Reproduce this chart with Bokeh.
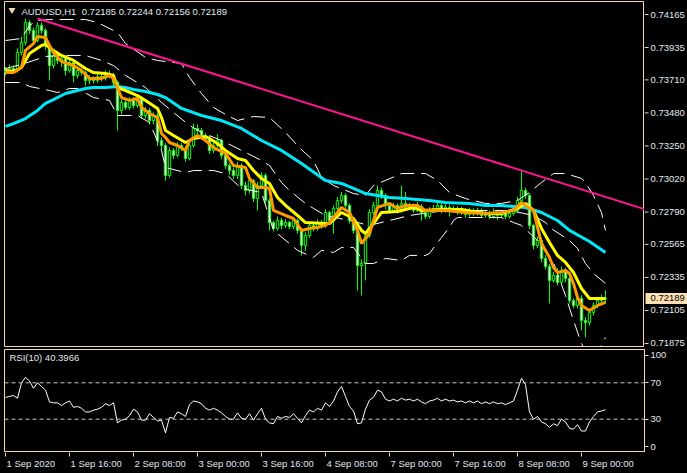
from bokeh.plotting import figure
from bokeh.models import Range1d, ColumnDataSource, Label, Span, GlobalInlineStyleSheet, FixedTicker
from bokeh.layouts import column, row
from bokeh.embed import file_html
from bokeh.resources import INLINE
from bokeh.core.properties import value

# ---------------- data ----------------
symbol = "AUDUSD,H1"
last_ohlc = [0.72185, 0.72244, 0.72156, 0.72189]
rsi_name = "RSI(10)"
rsi_last = "40.3966"

first_open = 0.73761
close = [
    0.73775, 0.73789, 0.73775, 0.73901, 0.73970, 0.74109, 0.74054, 0.73984, 0.74088, 0.74054,
    0.73949, 0.73810, 0.73880, 0.73845, 0.73859, 0.73775, 0.73831, 0.73740, 0.73775, 0.73761,
    0.73706, 0.73720, 0.73706, 0.73733, 0.73720, 0.73754, 0.73740, 0.73692, 0.73497, 0.73553,
    0.73518, 0.73566, 0.73532, 0.73580, 0.73462, 0.73497, 0.73427, 0.73462, 0.73288, 0.73253,
    0.73044, 0.73218, 0.73184, 0.73253, 0.73232, 0.73163, 0.73253, 0.73372, 0.73358, 0.73323,
    0.73302, 0.73218, 0.73253, 0.73288, 0.73184, 0.73114, 0.73079, 0.73044, 0.73114, 0.72975,
    0.72940, 0.73009, 0.72884, 0.72975, 0.73044, 0.72870, 0.72717, 0.72676, 0.72731, 0.72696,
    0.72717, 0.72689, 0.72731, 0.72662, 0.72557, 0.72627, 0.72696, 0.72676, 0.72717, 0.72696,
    0.72787, 0.72731, 0.72815, 0.72870, 0.72905, 0.72835, 0.72731, 0.72662, 0.72418, 0.72432,
    0.72627, 0.72787, 0.72835, 0.72940, 0.72905, 0.72835, 0.72801, 0.72835, 0.72801, 0.72849,
    0.72822, 0.72835, 0.72801, 0.72829, 0.72787, 0.72759, 0.72801, 0.72815, 0.72835, 0.72801,
    0.72822, 0.72801, 0.72815, 0.72787, 0.72801, 0.72773, 0.72801, 0.72780, 0.72801, 0.72766,
    0.72787, 0.72759, 0.72787, 0.72766, 0.72780, 0.72759, 0.72780, 0.72801, 0.72870, 0.72940,
    0.72905, 0.72696, 0.72557, 0.72592, 0.72467, 0.72411, 0.72314, 0.72349, 0.72300, 0.72383,
    0.72328, 0.72174, 0.72140, 0.72189, 0.72035, 0.72021, 0.72091, 0.72140, 0.72174, 0.72185,
    0.72189,
]
high = [
    0.73800, 0.73815, 0.73810, 0.73930, 0.74010, 0.74137, 0.74125, 0.74075, 0.74110, 0.74110,
    0.74070, 0.73965, 0.73905, 0.73900, 0.73885, 0.73880, 0.73860, 0.73850, 0.73800, 0.73790,
    0.73775, 0.73745, 0.73735, 0.73750, 0.73750, 0.73775, 0.73775, 0.73760, 0.73705, 0.73575,
    0.73570, 0.73590, 0.73590, 0.73600, 0.73595, 0.73520, 0.73515, 0.73485, 0.73480, 0.73310,
    0.73270, 0.73240, 0.73235, 0.73275, 0.73270, 0.73250, 0.73275, 0.73406, 0.73400, 0.73375,
    0.73340, 0.73320, 0.73275, 0.73330, 0.73300, 0.73200, 0.73130, 0.73100, 0.73140, 0.73130,
    0.73000, 0.73030, 0.73020, 0.73000, 0.73065, 0.73060, 0.72885, 0.72730, 0.72760, 0.72750,
    0.72740, 0.72730, 0.72750, 0.72745, 0.72680, 0.72650, 0.72720, 0.72715, 0.72740, 0.72735,
    0.72810, 0.72800, 0.72835, 0.72895, 0.72930, 0.72920, 0.72850, 0.72745, 0.72680, 0.72460,
    0.72650, 0.72810, 0.72860, 0.72975, 0.72960, 0.72920, 0.72850, 0.72855, 0.72850, 0.72975,
    0.72930, 0.72855, 0.72850, 0.72860, 0.72845, 0.72800, 0.72825, 0.72840, 0.72870, 0.72850,
    0.72845, 0.72840, 0.72835, 0.72830, 0.72825, 0.72815, 0.72820, 0.72815, 0.72820, 0.72815,
    0.72805, 0.72800, 0.72815, 0.72800, 0.72800, 0.72795, 0.72800, 0.72820, 0.72895, 0.73079,
    0.72960, 0.72920, 0.72710, 0.72620, 0.72610, 0.72490, 0.72430, 0.72375, 0.72400, 0.72410,
    0.72400, 0.72350, 0.72190, 0.72215, 0.72210, 0.72060, 0.72110, 0.72160, 0.72200, 0.72215,
    0.72244,
]
low = [
    0.73740, 0.73755, 0.73750, 0.73760, 0.73880, 0.73950, 0.74030, 0.73960, 0.73970, 0.74030,
    0.73920, 0.73706, 0.73790, 0.73820, 0.73800, 0.73740, 0.73760, 0.73692, 0.73720, 0.73740,
    0.73670, 0.73680, 0.73685, 0.73690, 0.73700, 0.73705, 0.73720, 0.73670, 0.73358, 0.73470,
    0.73500, 0.73500, 0.73510, 0.73515, 0.73440, 0.73440, 0.73400, 0.73400, 0.73250, 0.73218,
    0.73009, 0.73030, 0.73160, 0.73170, 0.73215, 0.73140, 0.73150, 0.73240, 0.73330, 0.73300,
    0.73275, 0.73195, 0.73200, 0.73240, 0.73160, 0.73090, 0.73050, 0.73020, 0.73020, 0.72950,
    0.72905, 0.72920, 0.72860, 0.72801, 0.72960, 0.72850, 0.72662, 0.72655, 0.72660, 0.72670,
    0.72680, 0.72670, 0.72670, 0.72640, 0.72488, 0.72522, 0.72610, 0.72655, 0.72660, 0.72675,
    0.72680, 0.72710, 0.72640, 0.72800, 0.72850, 0.72815, 0.72710, 0.72640, 0.72244, 0.72209,
    0.72314, 0.72610, 0.72770, 0.72820, 0.72880, 0.72810, 0.72780, 0.72790, 0.72780, 0.72785,
    0.72800, 0.72805, 0.72785, 0.72790, 0.72730, 0.72740, 0.72745, 0.72790, 0.72800, 0.72780,
    0.72785, 0.72760, 0.72790, 0.72770, 0.72770, 0.72750, 0.72760, 0.72760, 0.72765, 0.72750,
    0.72750, 0.72740, 0.72745, 0.72735, 0.72750, 0.72740, 0.72745, 0.72765, 0.72790, 0.72850,
    0.72880, 0.72670, 0.72530, 0.72540, 0.72440, 0.72390, 0.72154, 0.72300, 0.72280, 0.72285,
    0.72300, 0.72154, 0.72120, 0.72120, 0.71966, 0.71917, 0.72000, 0.72070, 0.72120, 0.72150,
    0.72156,
]

rsi = [
    54, 55, 56, 53, 70, 76, 72, 64, 70, 66,
    62, 49, 48, 48, 45, 48, 50, 43, 44, 42,
    38, 38, 40, 41, 43, 47, 45, 48, 26, 29,
    30, 34, 41, 38, 29, 29, 36, 32, 28, 29,
    15, 32, 31, 38, 36, 33, 46, 50, 49, 47,
    42, 40, 42, 40, 37, 33, 30, 30, 37, 31,
    30, 36, 29, 36, 42, 30, 26, 25, 33, 31,
    33, 32, 36, 31, 26, 34, 40, 38, 42, 40,
    48, 44, 50, 60, 66, 55, 44, 39, 25, 26,
    41, 51, 54, 62, 60, 52, 50, 52, 50, 53,
    51, 52, 50, 52, 49, 47, 50, 51, 53, 50,
    52, 50, 51, 49, 50, 48, 50, 48, 50, 47,
    49, 47, 49, 47, 48, 46, 48, 50, 62, 75,
    68, 38, 30, 33, 27, 25, 21, 25, 23, 30,
    27, 20, 19, 24, 17, 17, 27, 33, 38, 39,
    40.3966,
]

yellow_bar = [0, 2, 4, 6, 9, 10, 12, 14, 17, 20, 22, 25, 27, 28, 30, 33, 35, 38, 39, 40,
              42, 45, 47, 50, 51, 53, 55, 58, 60, 62, 64, 66, 68, 70, 73, 75, 80, 81, 84, 87,
              89, 90, 92, 94, 98, 102, 104, 109, 114, 120, 124, 128, 130, 132, 134, 136, 138, 140, 142, 144,
              146, 150]
yellow_val = [0.73775, 0.73768, 0.73796, 0.73894, 0.73949, 0.73956, 0.73915, 0.73880, 0.73845, 0.73789,
              0.73761, 0.73754, 0.73741, 0.73657, 0.73636, 0.73601, 0.73567, 0.73511, 0.73448, 0.73358,
              0.73323, 0.73274, 0.73302, 0.73316, 0.73302, 0.73267, 0.73219, 0.73163, 0.73149, 0.73079,
              0.73024, 0.72989, 0.72891, 0.72836, 0.72766, 0.72717, 0.72710, 0.72710, 0.72787, 0.72745,
              0.72662, 0.72641, 0.72710, 0.72787, 0.72794, 0.72822, 0.72801, 0.72808, 0.72808, 0.72780,
              0.72780, 0.72815, 0.72850, 0.72801, 0.72676, 0.72578, 0.72488, 0.72439, 0.72369, 0.72258,
              0.72188, 0.72188]

orange_bar = [0, 2, 4, 5, 7, 8, 10, 11, 12, 14, 17, 19, 21, 24, 26, 27, 29, 31, 33, 34,
              36, 38, 39, 40, 41, 43, 45, 46, 48, 50, 52, 55, 57, 60, 61, 63, 65, 66, 67, 70,
              72, 74, 76, 78, 80, 81, 84, 86, 88, 89, 91, 93, 96, 98, 100, 103, 105, 110, 115, 120,
              124, 127, 129, 130, 132, 133, 134, 136, 137, 138, 140, 141, 142, 143, 144, 146, 148, 150]
orange_val = [0.73761, 0.73761, 0.73796, 0.73915, 0.73963, 0.74012, 0.74005, 0.73949, 0.73901, 0.73838,
              0.73810, 0.73775, 0.73720, 0.73720, 0.73741, 0.73720, 0.73587, 0.73567, 0.73580, 0.73518,
              0.73476, 0.73448, 0.73337, 0.73309, 0.73274, 0.73253, 0.73219, 0.73288, 0.73323, 0.73288,
              0.73239, 0.73198, 0.73114, 0.73100, 0.73024, 0.72961, 0.72961, 0.72954, 0.72801, 0.72766,
              0.72745, 0.72662, 0.72676, 0.72683, 0.72697, 0.72717, 0.72822, 0.72787, 0.72662, 0.72571,
              0.72641, 0.72822, 0.72850, 0.72815, 0.72836, 0.72836, 0.72801, 0.72801, 0.72787, 0.72780,
              0.72787, 0.72801, 0.72857, 0.72836, 0.72801, 0.72683, 0.72571, 0.72474, 0.72404, 0.72369,
              0.72383, 0.72362, 0.72293, 0.72195, 0.72140, 0.72105, 0.72140, 0.72161]

cyan_bar = [0, 2, 5, 8, 10, 12, 15, 18, 20, 22, 25, 28, 30, 32, 35, 38, 40, 44, 49, 54,
            59, 64, 69, 74, 80, 84, 87, 90, 96, 100, 106, 110, 116, 120, 124, 130, 134, 138, 141, 146,
            150]
cyan_val = [0.73386, 0.73406, 0.73441, 0.73497, 0.73546, 0.73573, 0.73615, 0.73636, 0.73650, 0.73657,
            0.73657, 0.73664, 0.73657, 0.73643, 0.73629, 0.73608, 0.73587, 0.73511, 0.73462, 0.73427,
            0.73372, 0.73288, 0.73219, 0.73128, 0.73010, 0.72989, 0.72954, 0.72919, 0.72891, 0.72884,
            0.72871, 0.72857, 0.72850, 0.72836, 0.72836, 0.72822, 0.72787, 0.72731, 0.72662, 0.72585,
            0.72509]

upper_bar = [0, 4, 6, 8, 11, 20, 23, 28, 30, 35, 38, 44, 46, 49, 52, 55, 58, 62, 66, 70,
             73, 75, 77, 79, 82, 87, 90, 92, 95, 99, 105, 108, 111, 115, 120, 124, 128, 131, 134, 137,
             140, 144, 145, 147, 149, 150]
upper_val = [0.73984, 0.73998, 0.74089, 0.74123, 0.74130, 0.74130, 0.74109, 0.74040, 0.73963, 0.73866,
             0.73845, 0.73824, 0.73727, 0.73615, 0.73518, 0.73469, 0.73427, 0.73455, 0.73448, 0.73344,
             0.73253, 0.73198, 0.73149, 0.73031, 0.72975, 0.72919, 0.72905, 0.72975, 0.73010, 0.73058,
             0.73058, 0.73010, 0.72926, 0.72884, 0.72850, 0.72850, 0.72871, 0.72926, 0.72996, 0.73058,
             0.73058, 0.73024, 0.72996, 0.72905, 0.72787, 0.72662]

middle_bar = [0, 4, 10, 15, 20, 24, 27, 30, 35, 39, 42, 46, 49, 54, 59, 64, 66, 69, 71, 75,
              77, 80, 86, 91, 96, 101, 106, 111, 119, 126, 132, 135, 136, 141, 143, 145, 147, 150]
middle_val = [0.73789, 0.73817, 0.73873, 0.73880, 0.73880, 0.73845, 0.73810, 0.73741, 0.73657, 0.73553,
              0.73483, 0.73393, 0.73344, 0.73288, 0.73219, 0.73149, 0.73114, 0.72996, 0.72940, 0.72850,
              0.72815, 0.72766, 0.72731, 0.72697, 0.72731, 0.72766, 0.72787, 0.72801, 0.72801, 0.72801,
              0.72766, 0.72717, 0.72683, 0.72592, 0.72536, 0.72432, 0.72362, 0.72293]

lower_bar = [0, 4, 6, 11, 13, 16, 18, 22, 26, 28, 33, 36, 39, 40, 45, 47, 52, 55, 59, 64,
             67, 71, 73, 77, 79, 82, 84, 87, 90, 92, 95, 99, 101, 105, 106, 109, 111, 112, 113, 120,
             124, 127, 129, 133, 137, 140, 142, 144, 146, 148, 150]
lower_val = [0.73692, 0.73692, 0.73664, 0.73636, 0.73622, 0.73650, 0.73650, 0.73587, 0.73567, 0.73462,
             0.73462, 0.73413, 0.73219, 0.73100, 0.73065, 0.73079, 0.73079, 0.73058, 0.72954, 0.72926,
             0.72662, 0.72571, 0.72523, 0.72474, 0.72523, 0.72509, 0.72543, 0.72543, 0.72432, 0.72432,
             0.72467, 0.72453, 0.72488, 0.72488, 0.72502, 0.72613, 0.72683, 0.72731, 0.72752, 0.72752,
             0.72752, 0.72717, 0.72697, 0.72592, 0.72439, 0.72209, 0.72035, 0.71875, 0.71771, 0.71813,
             0.71917]

trend_bar = [8, 129]
trend_val = [0.74137, 0.73079]

time_tick_bars = [0, 16, 32, 48, 64, 80, 96, 112, 128, 144]
time_tick_labels = ["1 Sep 2020", "1 Sep 16:00", "2 Sep 08:00", "3 Sep 00:00", "3 Sep 16:00",
                    "4 Sep 08:00", "7 Sep 00:00", "7 Sep 16:00", "8 Sep 08:00", "9 Sep 00:00"]
price_ticks = [0.74165, 0.73935, 0.73710, 0.73480, 0.73250, 0.73020, 0.72790,
               0.72565, 0.72335, 0.72105, 0.71875]
rsi_ticks = [0, 30, 70, 100]
rsi_levels = [30, 70]

# ---------------- style ----------------
BG = "#000000"
FRAME = "#F2D8AE"
TEXT = "#E2E8EE"
GREEN = "#00FF00"
BOX = "#FCE0B4"
FONT = "Liberation Sans"
FS = "9.5px"

X0, X1 = -0.25, 159.75
P_TOP, P_BOT = 0.742555, 0.718541
R_TOP, R_BOT = 106.59, -6.59

def bar_at(px):
    return X0 + (px - 4) * (X1 - X0) / 640.0

def price_at(py):
    return P_TOP + (py - 1) * (P_BOT - P_TOP) / 345.0

def rsi_at(py):
    return R_TOP + (py - 349) * (R_BOT - R_TOP) / 103.0

def base_fig(**kw):
    f = figure(toolbar_location=None, output_backend="svg", background_fill_color=BG,
               border_fill_color=BG, **kw)
    f.grid.visible = False
    return f

xr = Range1d(X0, X1)

# ---------------- main price panel ----------------
p1 = base_fig(frame_width=640, frame_height=345, x_range=xr, y_range=Range1d(P_BOT, P_TOP),
              x_axis_location=None, y_axis_location=None, min_border_left=4, min_border_right=0,
              min_border_top=1, min_border_bottom=2, outline_line_color=FRAME)

bars = list(range(len(close)))
opens = [first_open] + close[:-1]
src = ColumnDataSource(dict(
    x=bars, h=high, l=low,
    top=[max(a, b) for a, b in zip(opens, close)],
    bot=[min(a, b) for a, b in zip(opens, close)],
    fill=["#FFFFFF" if c < o else "#000000" for o, c in zip(opens, close)],
))
p1.segment(x0="x", y0="l", x1="x", y1="h", source=src, line_color=GREEN, line_width=1)
p1.vbar(x="x", top="top", bottom="bot", width=0.6, fill_color="fill", line_color=GREEN,
        line_width=1, source=src)

for bx, by in ((upper_bar, upper_val), (middle_bar, middle_val), (lower_bar, lower_val)):
    p1.line(bx, by, line_color="#FFFFFF", line_width=1, line_dash="14 7")

p1.line(cyan_bar, cyan_val, line_color="#00E8F8", line_width=3)
p1.line(yellow_bar, yellow_val, line_color="#FFFF00", line_width=3)
p1.line(orange_bar, orange_val, line_color="#FF9900", line_width=3)

slope = (trend_val[1] - trend_val[0]) / (trend_bar[1] - trend_bar[0])
p1.line([trend_bar[0], X1], [trend_val[0], trend_val[0] + slope * (X1 - trend_bar[0])],
        line_color="#FF1493", line_width=2)

p1.scatter([bar_at(11.5)], [price_at(9.5)], marker="inverted_triangle", size=7,
           fill_color=FRAME, line_color=None)
title_txt = symbol + "\u00a0\u00a0" + " ".join(f"{v:.5f}" for v in last_ohlc)
p1.add_layout(Label(x=bar_at(21), y=price_at(10.5), text=title_txt, text_color=TEXT,
                    text_font=FONT, text_font_size=FS, text_baseline="middle", text_align="left"))

# price scale strip (ticks, labels, current-price box) on the right
ps = base_fig(frame_width=43, frame_height=347, x_range=Range1d(0, 43),
              y_range=Range1d(price_at(348), P_TOP), x_axis_location=None, y_axis_location=None,
              min_border_left=0, min_border_right=0, min_border_top=1, min_border_bottom=0,
              outline_line_color=None)
n = len(price_ticks)
ps.segment(x0=[0] * n, y0=price_ticks, x1=[4] * n, y1=price_ticks, line_color=FRAME, line_width=1)
ps.text(x=[6] * n, y=price_ticks, text=[f"{v:.5f}" for v in price_ticks], text_color=TEXT,
        text_font=value(FONT), text_font_size=FS, text_baseline="middle", text_align="left")
ps.rect(x=[22], y=[last_ohlc[3]], width=[42], height=[11], height_units="screen",
        fill_color=BOX, line_color=None)
ps.text(x=[6], y=[last_ohlc[3]], text=[f"{last_ohlc[3]:.5f}"], text_color="#000000",
        text_font=value(FONT), text_font_size=FS, text_baseline="middle", text_align="left")

# ---------------- RSI panel ----------------
p2 = base_fig(frame_width=640, frame_height=103, x_range=xr, y_range=Range1d(R_BOT, R_TOP),
              y_axis_location="right", x_axis_location=None, min_border_left=4,
              min_border_right=43, min_border_top=1, min_border_bottom=0, outline_line_color=FRAME)
ax = p2.yaxis[0]
ax.ticker = FixedTicker(ticks=rsi_ticks)
ax.axis_line_color = FRAME
ax.major_tick_line_color = FRAME
ax.minor_tick_line_color = None
ax.major_tick_out = 4
ax.major_tick_in = 0
ax.major_label_text_color = TEXT
ax.major_label_text_font = FONT
ax.major_label_text_font_size = FS
ax.major_label_standoff = 2
for lv in rsi_levels:
    p2.add_layout(Span(location=lv, dimension="width", line_color="#C8C8C8", line_width=1,
                       line_dash="4 3"))
p2.line(bars, rsi, line_color="#FFFFFF", line_width=1)
p2.add_layout(Label(x=bar_at(9), y=rsi_at(357), text=f"{rsi_name} {rsi_last}", text_color=TEXT,
                    text_font=FONT, text_font_size=FS, text_baseline="middle", text_align="left"))

# ---------------- time scale strip ----------------
pb = base_fig(frame_width=640, frame_height=21, x_range=xr, y_range=Range1d(0, 21),
              x_axis_location=None, y_axis_location=None, min_border_left=4, min_border_right=43,
              min_border_top=0, min_border_bottom=0, outline_line_color=None)
m = len(time_tick_bars)
pb.segment(x0=time_tick_bars, y0=[21] * m, x1=time_tick_bars, y1=[17] * m, line_color=FRAME,
           line_width=1)
pb.text(x=time_tick_bars, y=[10.5] * m, text=time_tick_labels, text_color=TEXT,
        text_font=value(FONT), text_font_size=FS, text_baseline="middle", text_align="left",
        x_offset=1)

layout = column(row(p1, ps, spacing=0), p2, pb, spacing=0,
                stylesheets=[GlobalInlineStyleSheet(css="body{margin:0;background:#000;}")])

open("out.html", "w").write(file_html(layout, INLINE))
